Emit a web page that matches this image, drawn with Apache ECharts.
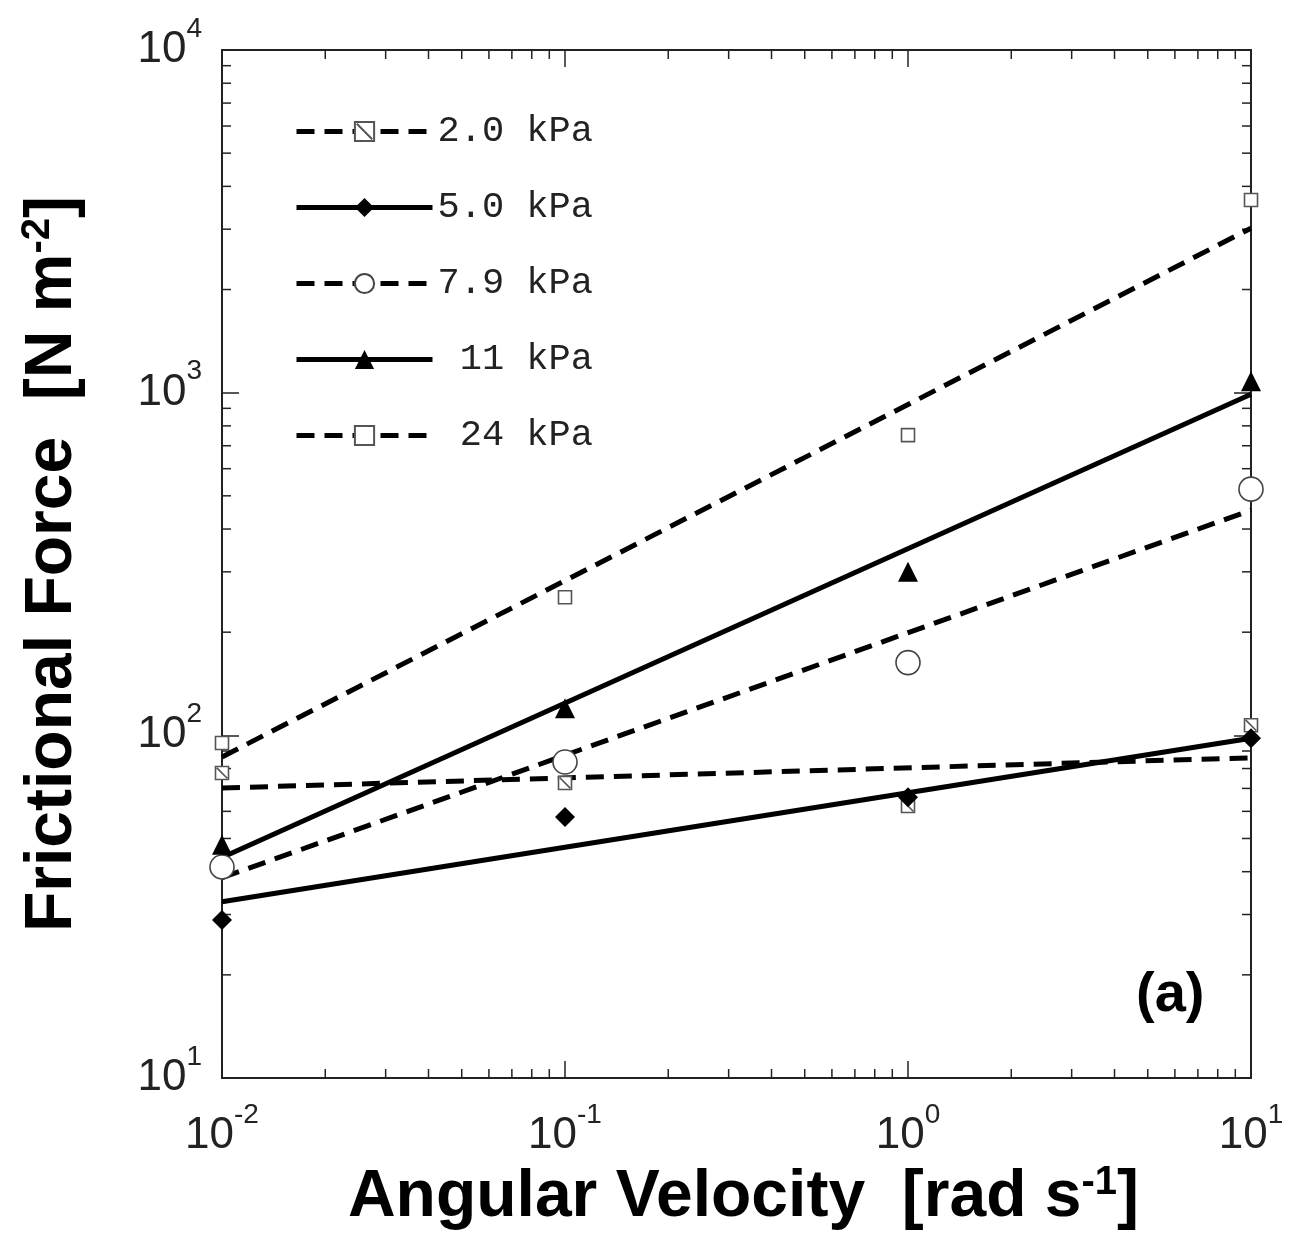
<!DOCTYPE html>
<html>
<head>
<meta charset="utf-8">
<script src="https://cdn.jsdelivr.net/npm/echarts@6/dist/echarts.min.js"></script>
<style>
  html, body { margin: 0; padding: 0; background: #fff; }
  #chart { width: 1299px; height: 1247px; }
</style>
</head>
<body>
<div id="chart"></div>
<script>
// measured points (angular velocity vs frictional force)
const xVals = [0.01, 0.1, 1, 10];
const p20 = [77.6, 72.6, 62.2, 107];
const p50 = [28.9, 57.8, 66, 98];
const p79 = [41.3, 83.6, 163, 523];
const p11 = [47.9, 120, 300, 1080];
const p24 = [95, 253, 752, 3650];

// fitted power-law lines (end points)
const fitX = [0.01, 10];
const fit20 = [70.2, 86];
const fit50 = [32.7, 98];
const fit79 = [38.4, 454];
const fit11 = [44, 990];
const fit24 = [86.5, 3020];

const seriesNames = ["2.0 kPa", "5.0 kPa", "7.9 kPa", "11 kPa", "24 kPa"];
const legendLabels = ["2.0 kPa", "5.0 kPa", "7.9 kPa", " 11 kPa", " 24 kPa"];

// minor tick values
const xMinorTicks = [0.02, 0.03, 0.04, 0.05, 0.06, 0.07, 0.08, 0.09,
                     0.2, 0.3, 0.4, 0.5, 0.6, 0.7, 0.8, 0.9,
                     2, 3, 4, 5, 6, 7, 8, 9];
const yMinorTicks = [20, 30, 40, 50, 60, 70, 80, 90,
                     200, 300, 400, 500, 600, 700, 800, 900,
                     2000, 3000, 4000, 5000, 6000, 7000, 8000, 9000];

const INK = "#222";
const slashBox = "path://M0,0 L10,0 L10,10 L0,10 Z M1,1 L9,9";

const styles = [
  { symbol: slashBox, size: 13, fill: "#fff", border: "#555", dash: [18, 10] },
  { symbol: "diamond", size: 20, fill: "#000", border: "#000", dash: "solid" },
  { symbol: "circle", size: 24, fill: "#fff", border: "#444", dash: [18, 10] },
  { symbol: "triangle", size: 20, fill: "#000", border: "#000", dash: "solid" },
  { symbol: "rect", size: 13, fill: "#fff", border: "#555", dash: [18, 10] }
];
const pts = [p20, p50, p79, p11, p24];
const fits = [fit20, fit50, fit79, fit11, fit24];

function pairs(xs, ys) { return xs.map((x, i) => [x, ys[i]]); }

const series = [];
seriesNames.forEach((name, i) => {
  const s = styles[i];
  const itemStyle = {
    color: s.fill, borderColor: s.border,
    borderWidth: s.fill === "#fff" ? 1.6 : 0, opacity: 1
  };
  series.push({
    name: name, type: "line", data: pairs(fitX, fits[i]),
    symbol: s.symbol, symbolSize: s.size, showSymbol: false,
    lineStyle: { color: "#000", width: 5, type: s.dash },
    itemStyle: itemStyle, silent: true, z: 2
  });
  series.push({
    name: name, type: "scatter", data: pairs(xVals, pts[i]),
    symbol: s.symbol, symbolSize: s.size,
    itemStyle: itemStyle, z: 3, clip: false
  });
});

// minor ticks on all four sides, placed through the axis scales
function minorTicks(values, dir) {
  return {
    type: "custom", silent: true, z: 1, clip: false,
    data: values.map(v => dir === "x" ? [v, 10] : [0.01, v]),
    renderItem: function (params, api) {
      const v = api.value(dir === "x" ? 0 : 1);
      const len = 9;
      let a, b;
      if (dir === "x") {
        a = api.coord([v, 10]); b = api.coord([v, 10000]);
        return { type: "group", children: [
          { type: "line", shape: { x1: a[0], y1: a[1], x2: a[0], y2: a[1] - len }, style: { stroke: INK, lineWidth: 1.5 } },
          { type: "line", shape: { x1: b[0], y1: b[1], x2: b[0], y2: b[1] + len }, style: { stroke: INK, lineWidth: 1.5 } }
        ]};
      }
      a = api.coord([0.01, v]); b = api.coord([10, v]);
      return { type: "group", children: [
        { type: "line", shape: { x1: a[0], y1: a[1], x2: a[0] + len, y2: a[1] }, style: { stroke: INK, lineWidth: 1.5 } },
        { type: "line", shape: { x1: b[0], y1: b[1], x2: b[0] - len, y2: b[1] }, style: { stroke: INK, lineWidth: 1.5 } }
      ]};
    }
  };
}
series.push(minorTicks(xMinorTicks, "x"));
series.push(minorTicks(yMinorTicks, "y"));

function powLabel(v) {
  const e = Math.round(Math.log10(v));
  return "{b|10}{s|" + e + "}";
}
// tall line for the base so the top-aligned exponent sits above it
const tickRich = {
  b: { fontFamily: "Liberation Sans", fontSize: 44, color: INK, lineHeight: 70 },
  s: { fontFamily: "Liberation Sans", fontSize: 28, color: INK, lineHeight: 28, verticalAlign: "top" }
};

const baseAxis = {
  type: "log", logBase: 10,
  axisLine: { show: true, onZero: false, lineStyle: { color: INK, width: 2 } },
  axisTick: { show: true, inside: true, length: 17, lineStyle: { color: INK, width: 1.5 } },
  splitLine: { show: false },
  minorTick: { show: false },
  minorSplitLine: { show: false }
};

const titleRich = {
  t: { fontFamily: "Liberation Sans Narrow, Liberation Sans", fontWeight: "bold", fontSize: 66, color: "#000", lineHeight: 70 },
  s: { fontFamily: "Liberation Sans Narrow, Liberation Sans", fontWeight: "bold", fontSize: 40, color: "#000", lineHeight: 30, verticalAlign: "top" }
};

const option = {
  animation: false,
  backgroundColor: "#fff",
  grid: { left: 222, right: 48, top: 50, bottom: 169, containLabel: false },
  legend: {
    data: seriesNames,
    orient: "vertical",
    left: 289, top: 108,
    itemWidth: 136, itemHeight: 24, itemGap: 39,
    lineStyle: { width: 5 },
    formatter: name => legendLabels[seriesNames.indexOf(name)],
    textStyle: { fontFamily: "Liberation Mono", fontSize: 37, color: INK, lineHeight: 30, padding: [0, 0, 0, 0] },
    selectedMode: false
  },
  xAxis: [
    Object.assign({}, baseAxis, {
      position: "bottom", min: 0.01, max: 10,
      axisLabel: { margin: 23, formatter: powLabel, rich: tickRich },
      name: "{t|Angular Velocity  [rad s}{s|-1}{t|]}",
      nameLocation: "middle", nameGap: 84,
      nameTextStyle: { rich: titleRich, padding: [0, 0, 0, 14] }
    }),
    Object.assign({}, baseAxis, {
      position: "top", min: 0.01, max: 10, axisLabel: { show: false }
    })
  ],
  yAxis: [
    Object.assign({}, baseAxis, {
      position: "left", min: 10, max: 10000,
      axisLabel: { margin: 20, formatter: powLabel, rich: tickRich },
      name: "{t|Frictional Force  [N m}{s|-2}{t|]}",
      nameLocation: "middle", nameGap: 134, nameRotate: 90,
      nameTextStyle: { rich: titleRich }
    }),
    Object.assign({}, baseAxis, {
      position: "right", min: 10, max: 10000, axisLabel: { show: false }
    })
  ],
  graphic: [{
    type: "text", left: 1136, top: 968,
    style: { text: "(a)", font: "bold 56px Liberation Sans", fill: "#000" }
  }],
  series: series
};

const chart = echarts.init(document.getElementById("chart"), null, { renderer: "canvas" });
chart.setOption(option);
</script>
</body>
</html>
